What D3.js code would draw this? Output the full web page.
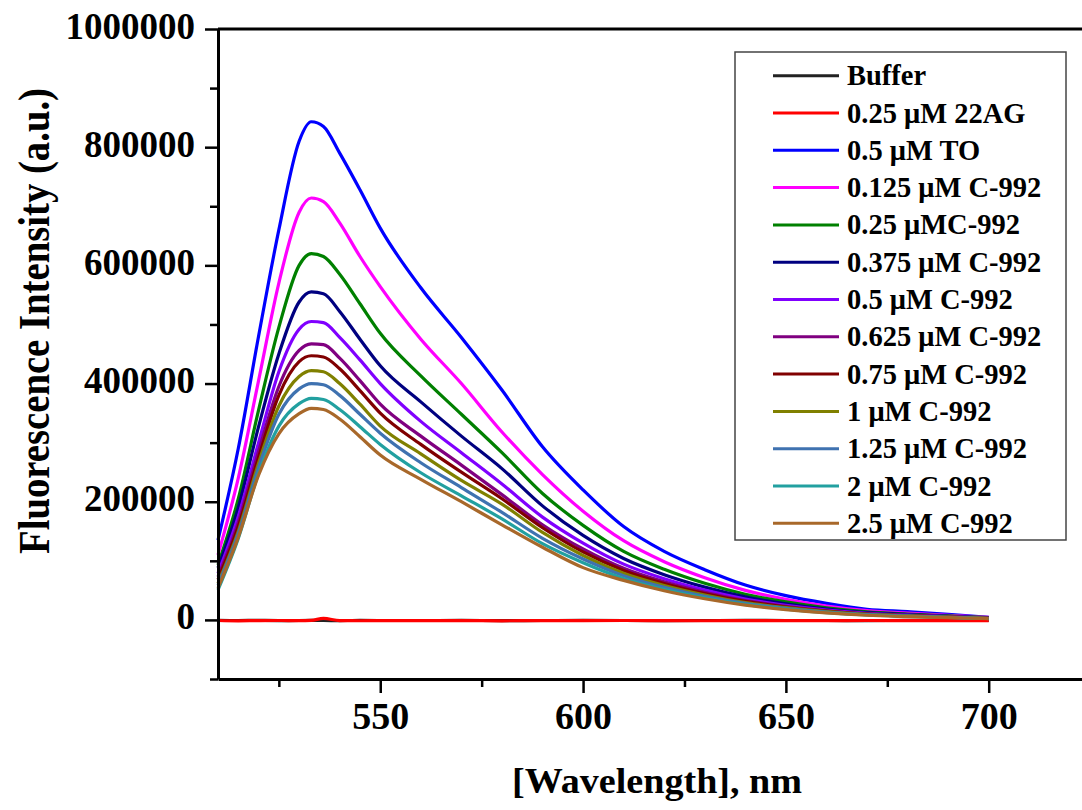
<!DOCTYPE html>
<html>
<head>
<meta charset="utf-8">
<script src="https://cdn.jsdelivr.net/npm/d3@7"></script>
<style>
  body { margin: 0; background: #fff; }
  text { font-family: "Liberation Serif", "Times New Roman", serif; font-weight: bold; fill: #000; }
</style>
</head>
<body>
<svg id="chart" width="1082" height="810"></svg>
<script>
// wavelength sample points (nm)
const wavelengths = [510, 515, 520, 525, 530, 533, 536, 540, 545, 550, 560, 570, 580, 590, 600, 610, 620, 630, 640, 650, 660, 670, 680, 690, 700];

const buffer = [-800, -1000, -900, -1100, -1000, -900, -1000, -1100, -900, -1000, -1000, -900, -1100, -1000, -900, -1000, -1100, -1000, -900, -1000, -1000, -1100, -900, -1000, -1000];
const ag22 = [-1000, -1500, -1200, -1000, -1300, -800, 2500, -1200, -1400, -1100, -1300, -1200, -1500, -1100, -1300, -1000, -1200, -1400, -1100, -1300, -1200, -1000, -1300, -1100, -1200];
const to05 = [135000, 290000, 480000, 660000, 810000, 843000, 835000, 790000, 728000, 663000, 562000, 478000, 389000, 293000, 220000, 158000, 116000, 85000, 59000, 41000, 28000, 18000, 14000, 9600, 4500];
const c0125 = [110000, 240000, 405000, 570000, 690000, 714000, 708000, 672000, 615000, 564000, 475000, 400000, 318000, 246000, 184000, 134000, 98500, 71400, 50000, 35000, 23600, 15700, 11400, 7900, 4300];
const c025 = [93000, 205000, 355000, 495000, 600000, 620000, 615000, 585000, 535000, 485000, 413000, 348000, 283000, 214000, 160000, 116000, 85700, 62000, 43500, 30400, 20500, 13700, 9900, 6800, 3700];
const c0375 = [88000, 190000, 327000, 450000, 538000, 555000, 552000, 522000, 475000, 430000, 369000, 311000, 256000, 193000, 143000, 104000, 76600, 55500, 38900, 27200, 18300, 12200, 8900, 6100, 3300];
const c05 = [79000, 175000, 300000, 420000, 492000, 505000, 503000, 478000, 440000, 400000, 336000, 283000, 230000, 174000, 130000, 94400, 69700, 50500, 35400, 24700, 16700, 11100, 8100, 5600, 3000];
const c0625 = [73000, 165000, 285000, 395000, 456000, 467000, 466000, 443000, 405000, 365000, 311000, 262000, 212000, 161000, 120000, 87300, 64400, 46700, 32700, 22900, 15400, 10300, 7500, 5100, 2800];
const c075 = [68000, 158000, 275000, 380000, 437000, 447000, 445000, 425000, 388000, 350000, 297000, 250000, 205000, 156000, 115000, 83600, 61700, 44700, 31300, 21900, 14800, 9800, 7200, 4900, 2700];
const c1 = [62000, 150000, 265000, 362000, 412000, 422000, 420000, 400000, 365000, 328000, 281000, 236000, 196000, 148000, 109000, 78900, 58200, 42200, 29500, 20700, 13900, 9300, 6800, 4600, 2500];
const c125 = [59000, 146000, 258000, 348000, 391000, 400000, 398000, 380000, 348000, 316000, 266000, 224000, 182000, 138000, 103000, 74800, 55200, 40000, 28000, 19600, 13200, 8800, 6400, 4400, 2400];
const c2 = [51000, 138000, 248000, 328000, 366000, 375000, 373000, 356000, 327000, 297000, 249000, 210000, 171000, 129000, 96800, 70100, 51800, 37500, 26300, 18400, 12400, 8300, 6000, 4100, 2300];
const c25 = [54000, 140000, 245000, 315000, 349000, 358000, 356000, 340000, 310000, 279000, 238000, 200000, 161000, 123000, 88500, 66900, 49400, 35800, 25100, 17500, 11800, 7900, 5700, 3900, 2100];

const seriesNames = ["Buffer", "0.25 \u03bcM 22AG", "0.5 \u03bcM TO", "0.125 \u03bcM C-992", "0.25 \u03bcMC-992", "0.375 \u03bcM C-992", "0.5 \u03bcM C-992", "0.625 \u03bcM C-992", "0.75 \u03bcM C-992", "1 \u03bcM C-992", "1.25 \u03bcM C-992", "2 \u03bcM C-992", "2.5 \u03bcM C-992"];
const seriesValues = [buffer, ag22, to05, c0125, c025, c0375, c05, c0625, c075, c1, c125, c2, c25];
const seriesColors = ["#222222", "#ff0000", "#0000ff", "#ff00ff", "#008000", "#000080", "#8000ff", "#800080", "#800000", "#808000", "#3f72b0", "#22a0a0", "#a8682a"];

const yMajor = [0, 200000, 400000, 600000, 800000, 1000000];
const yMinor = [-100000, 100000, 300000, 500000, 700000, 900000];
const xMajor = [550, 600, 650, 700];
const xMinor = [525, 575, 625, 675];

const svg = d3.select("#chart");

const x = d3.scaleLinear().domain([510, 723]).range([218, 1082]);
const y = d3.scaleLinear().domain([-100000, 1000000]).range([679, 29]);

// curves
const line = d3.line()
    .x(d => x(d[0]))
    .y(d => y(d[1]))
    .curve(d3.curveMonotoneX);

svg.append("g")
    .selectAll("path")
    .data(seriesValues)
    .enter()
    .append("path")
    .attr("d", vals => line(wavelengths.map((w, i) => [w, vals[i]])))
    .attr("fill", "none")
    .attr("stroke", (d, i) => seriesColors[i])
    .attr("stroke-width", 3.2)
    .attr("stroke-linejoin", "round");

// axes
const yAxis = svg.append("g")
    .attr("transform", "translate(218,0)")
    .call(d3.axisLeft(y).tickValues(yMajor).tickSize(13).tickSizeOuter(0).tickFormat(d3.format("d")));
yAxis.selectAll("text")
    .attr("x", -23)
    .attr("dy", 0)
    .attr("y", 9)
    .style("font-size", "37px");

svg.append("g")
    .attr("transform", "translate(218,0)")
    .call(d3.axisLeft(y).tickValues(yMinor).tickSize(8).tickSizeOuter(0).tickFormat(""))
    .select(".domain").remove();

const xAxis = svg.append("g")
    .attr("transform", "translate(0,679)")
    .call(d3.axisBottom(x).tickValues(xMajor).tickSize(14).tickSizeOuter(0).tickFormat(d3.format("d")));
xAxis.selectAll("text")
    .attr("y", 50)
    .attr("dy", 0)
    .style("font-size", "38px");

svg.append("g")
    .attr("transform", "translate(0,679)")
    .call(d3.axisBottom(x).tickValues(xMinor).tickSize(8).tickSizeOuter(0).tickFormat(""))
    .select(".domain").remove();

svg.selectAll(".domain").attr("stroke", "#000").attr("stroke-width", 3);
svg.selectAll(".tick line").attr("stroke", "#000").attr("stroke-width", 2.5);

// top frame line
svg.append("line")
    .attr("x1", x(510)).attr("x2", x(723))
    .attr("y1", y(1000000)).attr("y2", y(1000000))
    .attr("stroke", "#000")
    .attr("stroke-width", 3);

// axis titles
svg.append("text")
    .attr("transform", "translate(49,321) rotate(-90)")
    .attr("text-anchor", "middle")
    .attr("textLength", 466)
    .attr("lengthAdjust", "spacingAndGlyphs")
    .style("font-size", "45px")
    .text("Fluorescence Intensity (a.u.)");

svg.append("text")
    .attr("x", 657)
    .attr("y", 793)
    .attr("text-anchor", "middle")
    .attr("textLength", 290)
    .attr("lengthAdjust", "spacingAndGlyphs")
    .style("font-size", "36px")
    .text("[Wavelength], nm");

// legend
const legend = svg.append("g");
legend.append("rect")
    .attr("x", 735).attr("y", 52)
    .attr("width", 331).attr("height", 488)
    .attr("fill", "#fff")
    .attr("stroke", "#444")
    .attr("stroke-width", 1.5);

const rowY = i => 75.7 + i * 37.3;

legend.selectAll("line.key")
    .data(seriesNames)
    .enter()
    .append("line")
    .attr("class", "key")
    .attr("x1", 773).attr("x2", 839)
    .attr("y1", (d, i) => rowY(i)).attr("y2", (d, i) => rowY(i))
    .attr("stroke", (d, i) => seriesColors[i])
    .attr("stroke-width", 3);

legend.selectAll("text")
    .data(seriesNames)
    .enter()
    .append("text")
    .attr("x", 847)
    .attr("y", (d, i) => rowY(i) + 9.5)
    .style("font-size", "28.5px")
    .text(d => d);
</script>
</body>
</html>
